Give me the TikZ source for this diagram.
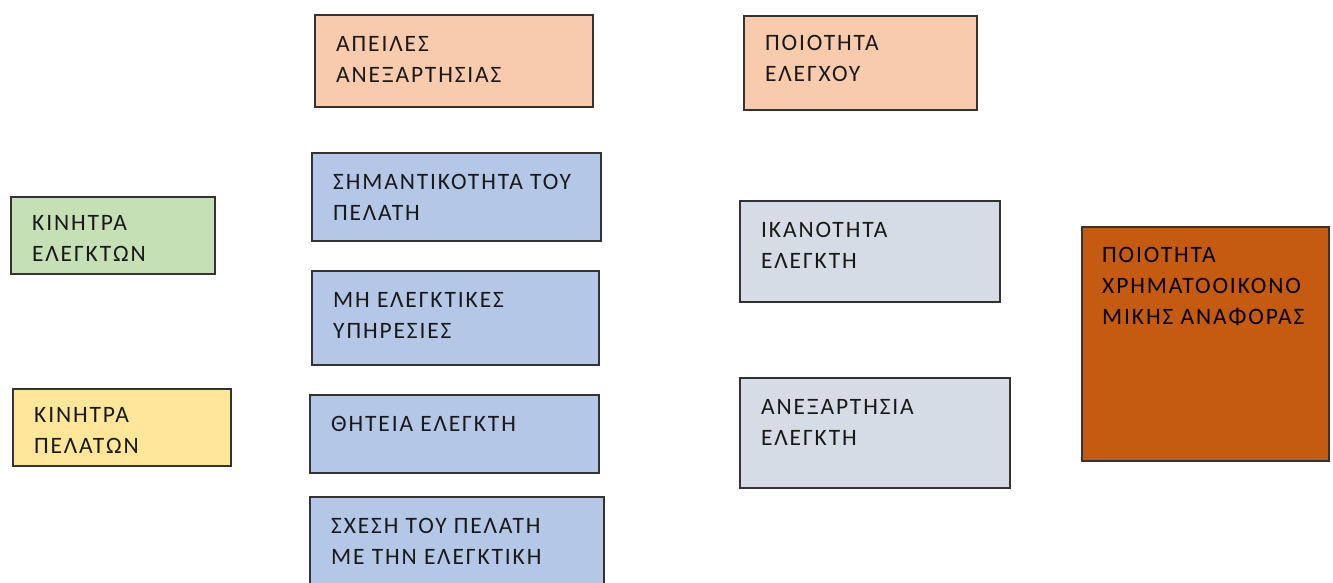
\documentclass[tikz,border=0pt]{standalone}
\usepackage{fontspec}
\newfontfamily\boxfont[LetterSpace=8]{Carlito}
\usetikzlibrary{positioning}

\definecolor{motivgreen}{HTML}{C5E0B4}
\definecolor{motivyellow}{HTML}{FFE699}
\definecolor{threatpeach}{HTML}{F8CBAD}
\definecolor{factorblue}{HTML}{B4C7E7}
\definecolor{auditgrey}{HTML}{D6DCE5}
\definecolor{reportorange}{HTML}{C55A11}

\tikzset{
  factor/.style={draw=black!80, line width=1.7pt, anchor=north west, inner sep=0pt},
  factortext/.style={anchor=north west, align=left, inner xsep=22pt, inner ysep=22pt,
    font=\boxfont\fontsize{23.5}{31}\selectfont, text=black!90}
}

\begin{document}
\begin{tikzpicture}[x=1pt, y=-1pt]
    \useasboundingbox (0,0) rectangle (1333,583);
    % motives
    \node[factor, fill=motivgreen, minimum width=204pt, minimum height=77pt,
      label={[factortext, inner ysep=19pt]north west:{ΚΙΝΗΤΡΑ\\ΕΛΕΓΚΤΩΝ}}] (audmotiv) at (10,196) {};
    \node[factor, fill=motivyellow, minimum width=218pt, minimum height=77pt,
      label={[factortext, inner ysep=19pt]north west:{ΚΙΝΗΤΡΑ\\ΠΕΛΑΤΩΝ}}] (climotiv) at (12,388) {};
    % threats and their sources
    \node[factor, fill=threatpeach, minimum width=278pt, minimum height=92pt,
      label={[factortext]north west:{ΑΠΕΙΛΕΣ\\ΑΝΕΞΑΡΤΗΣΙΑΣ}}] (threats) at (314,14) {};
    \node[factor, fill=factorblue, minimum width=289pt, minimum height=88pt,
      label={[factortext]north west:{ΣΗΜΑΝΤΙΚΟΤΗΤΑ ΤΟΥ\\ΠΕΛΑΤΗ}}] (clientimp) at (311,152) {};
    \node[factor, fill=factorblue, minimum width=287pt, minimum height=94pt,
      label={[factortext]north west:{ΜΗ ΕΛΕΓΚΤΙΚΕΣ\\ΥΠΗΡΕΣΙΕΣ}}] (nonaudit) at (311,270) {};
    \node[factor, fill=factorblue, minimum width=289pt, minimum height=78pt,
      label={[factortext]north west:{ΘΗΤΕΙΑ ΕΛΕΓΚΤΗ}}] (tenure) at (309,394) {};
    \node[factor, fill=factorblue, minimum width=294pt, minimum height=100pt,
      label={[factortext]north west:{ΣΧΕΣΗ ΤΟΥ ΠΕΛΑΤΗ\\ΜΕ ΤΗΝ ΕΛΕΓΚΤΙΚΗ}}] (relation) at (309,496) {};
    % audit
    \node[factor, fill=threatpeach, minimum width=233pt, minimum height=94pt,
      label={[factortext, inner ysep=20pt]north west:{ΠΟΙΟΤΗΤΑ\\ΕΛΕΓΧΟΥ}}] (auditq) at (743,15) {};
    \node[factor, fill=auditgrey, minimum width=260pt, minimum height=101pt,
      label={[factortext]north west:{ΙΚΑΝΟΤΗΤΑ\\ΕΛΕΓΚΤΗ}}] (competence) at (739,200) {};
    \node[factor, fill=auditgrey, minimum width=270pt, minimum height=110pt,
      label={[factortext]north west:{ΑΝΕΞΑΡΤΗΣΙΑ\\ΕΛΕΓΚΤΗ}}] (independence) at (739,377) {};
    % outcome
    \node[factor, fill=reportorange, minimum width=247pt, minimum height=234pt,
      label={[factortext, inner xsep=21pt, inner ysep=21pt, text=black]north west:{ΠΟΙΟΤΗΤΑ\\ΧΡΗΜΑΤΟΟΙΚΟΝΟ\\ΜΙΚΗΣ ΑΝΑΦΟΡΑΣ}}] (reporting) at (1081,226) {};
\end{tikzpicture}
\end{document}
